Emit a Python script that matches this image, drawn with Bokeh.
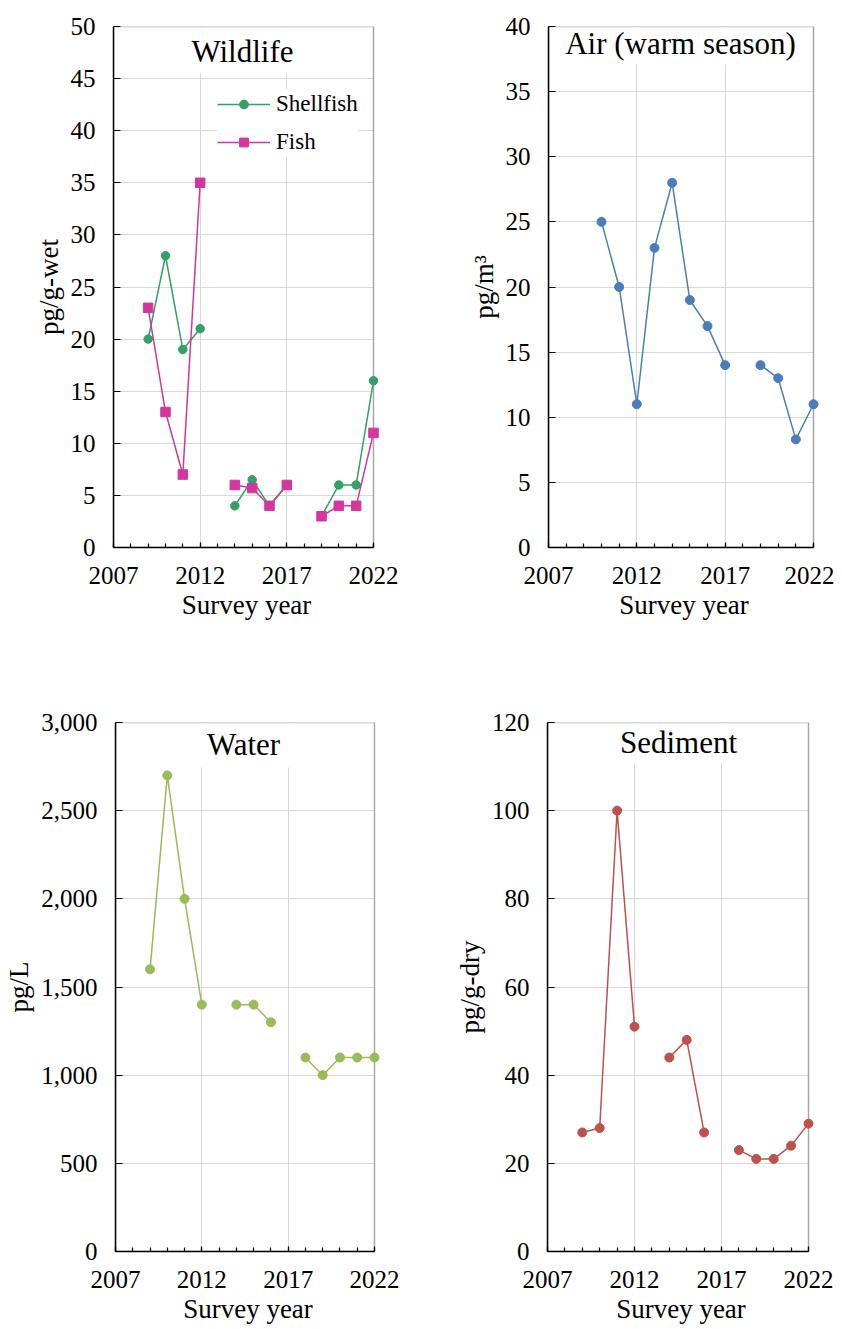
from bokeh.plotting import figure
from bokeh.models import (FixedTicker, NumeralTickFormatter, Label, BoxAnnotation,
                          Legend, LegendItem, Range1d)
from bokeh.layouts import column, row
from bokeh.embed import file_html
from bokeh.resources import INLINE

nan = float("nan")

# ---------------- data ----------------
years = [2009, 2010, 2011, 2012, 2013, 2014, 2015, 2016, 2017, 2018, 2019, 2020, 2021, 2022]
shellfish = [20, 28, 19, 21, nan, 4, 6.5, 4, 6, nan, 3, 6, 6, 16]
fish = [23, 13, 7, 35, nan, 6, 5.7, 4, 6, nan, 3, 4, 4, 11]

air_years = [2010, 2011, 2012, 2013, 2014, 2015, 2016, 2017, 2018, 2019, 2020, 2021, 2022]
air = [25, 20, 11, 23, 28, 19, 17, 14, nan, 14, 13, 8.3, 11]

water = [1600, 2700, 2000, 1400, nan, 1400, 1400, 1300, nan, 1100, 1000, 1100, 1100, 1100]
sediment = [27, 28, 100, 51, nan, 44, 48, 27, nan, 23, 21, 21, 24, 29]

x_major = [2007, 2012, 2017, 2022]
x_minor = list(range(2007, 2023))

FONT = "Liberation Serif"
GRID = "#d9d9d9"
C_SHELL = "#33A065"
C_FISH = "#D4369E"
C_AIR = "#4A7EBB"
C_WATER = "#9BBB59"
C_SED = "#C0504D"

PAD = 6  # extra pixels right of the 2022 edge so end markers are not clipped


def make_panel(width, height, bl, bt, fw, fh, ymax, ystep, ylabel,
               title, tx, ty, box_h, fmt=None):
    x0, x1 = x_major[0], x_major[-1]
    xend = x1 + PAD * (x1 - x0) / fw
    tot_fw = fw + PAD
    br = width - bl - tot_fw
    bb = height - bt - fh
    p = figure(width=width, height=height, output_backend="svg", toolbar_location=None,
               x_range=Range1d(x0, xend), y_range=Range1d(0, ymax),
               min_border_left=bl, min_border_top=bt, min_border_right=br,
               min_border_bottom=bb)
    p.background_fill_color = "white"
    p.border_fill_color = "white"
    p.outline_line_color = None

    p.xaxis.ticker = FixedTicker(ticks=x_major, minor_ticks=x_minor)
    p.yaxis.ticker = FixedTicker(ticks=list(range(0, ymax + 1, ystep)))
    p.xaxis.bounds = (x0, x1)
    if fmt:
        p.yaxis.formatter = NumeralTickFormatter(format=fmt)

    for ax in (p.xaxis[0], p.yaxis[0]):
        ax.axis_line_color = "black"
        ax.axis_line_width = 1.5
        ax.major_label_text_font = FONT
        ax.major_label_text_font_size = "25px"
        ax.major_label_text_color = "black"
        ax.axis_label_text_font = FONT
        ax.axis_label_text_font_size = "27px"
        ax.axis_label_text_font_style = "normal"
        ax.axis_label_text_color = "black"
        ax.major_tick_out = 0
        ax.minor_tick_out = 0
        ax.major_tick_line_color = "black"
        ax.minor_tick_line_color = "black"
        ax.major_tick_line_width = 1.2
        ax.minor_tick_line_width = 1.2
    p.xaxis.major_tick_in = 5
    p.xaxis.minor_tick_in = 4
    p.yaxis.major_tick_in = 7
    p.yaxis.minor_tick_line_color = None
    p.xaxis.axis_label = "Survey year"
    p.yaxis.axis_label = ylabel
    p.xaxis.major_label_standoff = 19
    p.xaxis.axis_label_standoff = 3
    p.yaxis.major_label_standoff = 18
    p.yaxis.axis_label_standoff = 4

    p.xgrid.grid_line_color = GRID
    p.ygrid.grid_line_color = GRID
    p.xgrid.grid_line_width = 1
    p.ygrid.grid_line_width = 1

    # white strip right of 2022 hides grid lines there (under the glyphs)
    p.add_layout(BoxAnnotation(left=x1, right=None, top=None, bottom=None,
                               fill_color="white", fill_alpha=1.0, line_color=None,
                               level="underlay"))
    # white box behind the panel title (hides the grid lines there)
    p.add_layout(BoxAnnotation(left=12, right=fw - 12, top=fh - 1, bottom=fh - box_h,
                               left_units="screen", right_units="screen",
                               top_units="screen", bottom_units="screen",
                               fill_color="white", fill_alpha=1.0, line_color=None,
                               level="underlay"))
    # black plot frame from 2007 to 2022
    p.add_layout(BoxAnnotation(left=x0, right=x1, top=ymax, bottom=0,
                               fill_alpha=0.0, fill_color=None, line_color="black",
                               line_width=1.5, level="underlay"))
    p.add_layout(Label(x=tx, y=ty, x_units="screen", y_units="screen", text=title,
                       text_align="center", text_baseline="alphabetic",
                       text_font=FONT, text_font_size="31px", text_color="black"))
    return p


def series(p, xs, ys, color, marker, size):
    ln = p.line(xs, ys, line_color=color, line_width=1.5)
    sc = p.scatter(xs, ys, marker=marker, size=size, fill_color=color, line_color=color)
    return ln, sc


# ---------------- Wildlife ----------------
p1 = make_panel(425, 694, 113, 26, 260, 521, 50, 5, "pg/g-wet",
                "Wildlife", 129, 496, 47)
l1, s1 = series(p1, years, shellfish, C_SHELL, "circle", 8.5)
l2, s2 = series(p1, years, fish, C_FISH, "square", 9.5)
legend = Legend(items=[LegendItem(label="Shellfish", renderers=[l1, s1]),
                       LegendItem(label="Fish", renderers=[l2, s2])],
                location=(104, 390), orientation="vertical",
                label_text_font=FONT, label_text_font_size="23px",
                label_text_color="black", glyph_width=53, glyph_height=22,
                label_height=30, label_standoff=6, spacing=8, padding=4, margin=0,
                border_line_color=None, background_fill_color="white",
                background_fill_alpha=1.0)
p1.add_layout(legend)

# ---------------- Air ----------------
p2 = make_panel(409, 694, 123, 18, 265, 532, 40, 5, "pg/m³",
                "Air (warm season)", 132, 504, 49)
series(p2, air_years, air, C_AIR, "circle", 9)

# ---------------- Water ----------------
p3 = make_panel(425, 635, 115, 28, 259, 530, 3000, 500, "pg/L",
                "Water", 128, 507, 46, fmt="0,0")
series(p3, years, water, C_WATER, "circle", 9)

# ---------------- Sediment ----------------
p4 = make_panel(409, 635, 122, 23, 261, 534, 120, 20, "pg/g-dry",
                "Sediment", 131, 509, 46)
series(p4, years, sediment, C_SED, "circle", 9)

layout = column(row(p1, p2), row(p3, p4))
open("out.html", "w").write(file_html(layout, INLINE))
